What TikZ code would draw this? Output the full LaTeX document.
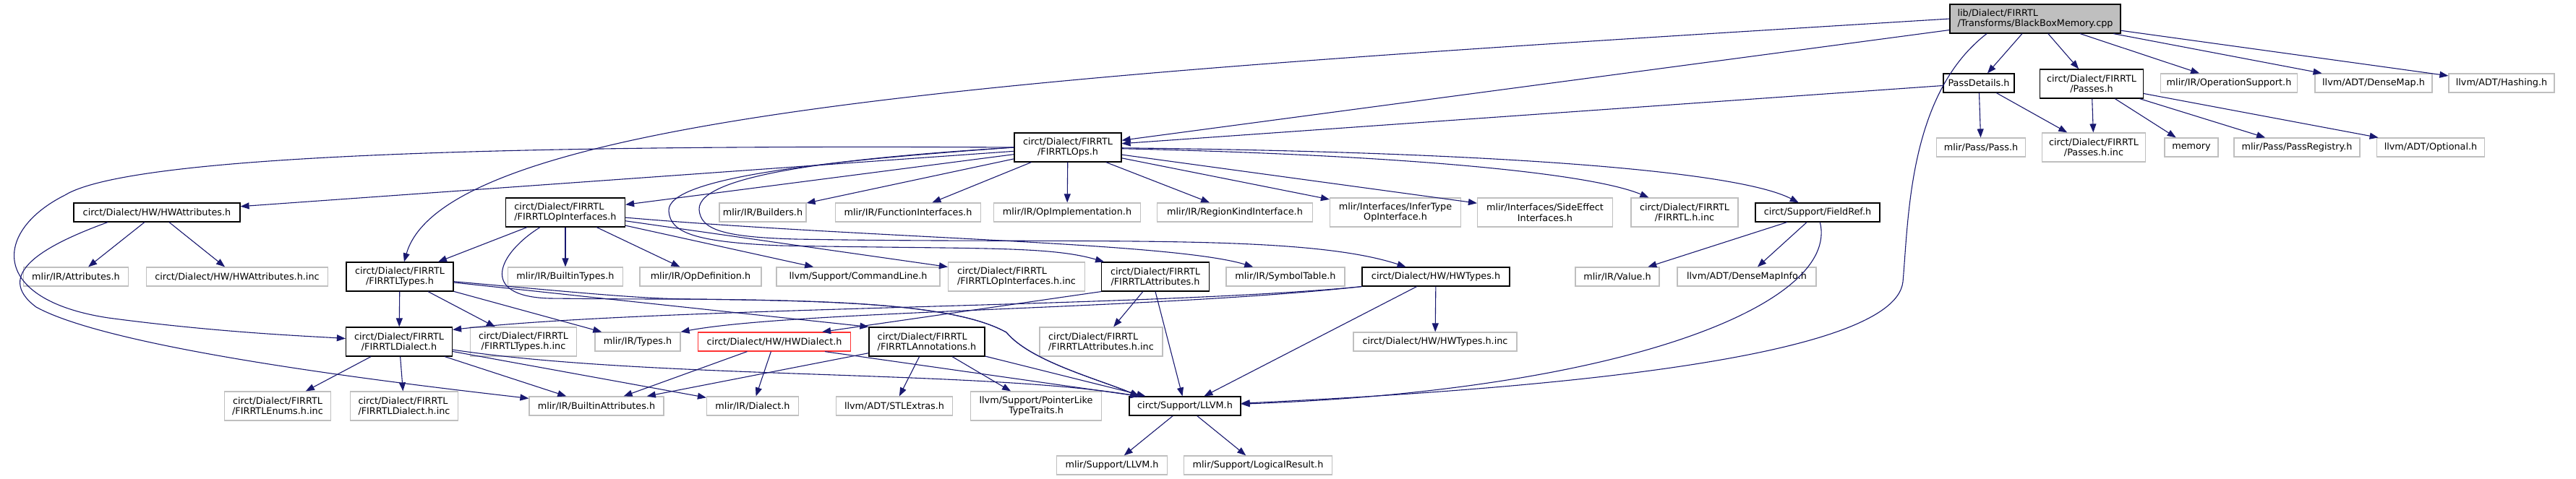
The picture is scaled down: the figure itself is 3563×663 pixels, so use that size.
\documentclass[tikz,border=0pt]{standalone}
\usepackage{fontspec}
\setmainfont{DejaVu Sans}
\usetikzlibrary{arrows.meta}
\definecolor{edgeblue}{HTML}{191970}
\definecolor{boxgray}{HTML}{BFBFBF}

\begin{document}
\begin{tikzpicture}[x=1pt,y=-1pt,
  box/.style={fill=white,line width=1.2pt,inner sep=0pt,minimum height=26pt,font=\fontsize{12.8}{14.5}\selectfont,align=center},
  incl/.style={box,draw=black},ext/.style={box,draw=boxgray},
  rootbox/.style={box,draw=black,fill=boxgray},redbox/.style={box,draw=red!80},
  tall/.style={minimum height=40pt},lalign/.style={align=left},
  dep/.style={draw=edgeblue,line width=1.1pt,-{Triangle[length=12pt,width=9pt]}}]
  \useasboundingbox (0,0) rectangle (3563,663);

  \node[rootbox,tall,lalign,minimum width=236pt] (root) at (2815,26) {lib/Dialect/FIRRTL\\/Transforms/BlackBoxMemory.cpp};

  \node[incl,minimum width=98pt] (passdet) at (2737,115) {PassDetails.h};
  \node[incl,tall,minimum width=143pt] (passes) at (2893,116) {circt/Dialect/FIRRTL\\/Passes.h};
  \node[ext,minimum width=189pt] (opsupp) at (3083,115) {mlir/IR/OperationSupport.h};
  \node[ext,minimum width=162pt] (densemap) at (3283,115) {llvm/ADT/DenseMap.h};
  \node[ext,minimum width=146pt] (hashing) at (3460,115) {llvm/ADT/Hashing.h};

  \node[incl,tall,minimum width=148pt] (ops) at (1477,204) {circt/Dialect/FIRRTL\\/FIRRTLOps.h};
  \node[ext,minimum width=123pt] (pass) at (2740,204) {mlir/Pass/Pass.h};
  \node[ext,tall,minimum width=143pt] (passinc) at (2896,204) {circt/Dialect/FIRRTL\\/Passes.h.inc};
  \node[ext,minimum width=74pt] (memory) at (3031,204) {memory};
  \node[ext,minimum width=174pt] (passreg) at (3177,204) {mlir/Pass/PassRegistry.h};
  \node[ext,minimum width=149pt] (optional) at (3362,204) {llvm/ADT/Optional.h};

  \node[incl,minimum width=230pt] (hwattr) at (217,294) {circt/Dialect/HW/HWAttributes.h};
  \node[incl,tall,lalign,minimum width=165pt] (opif) at (782,294) {circt/Dialect/FIRRTL\\/FIRRTLOpInterfaces.h};
  \node[ext,minimum width=120pt] (builders) at (1055,294) {mlir/IR/Builders.h};
  \node[ext,minimum width=201pt] (funcif) at (1256,294) {mlir/IR/FunctionInterfaces.h};
  \node[ext,minimum width=203pt] (opimpl) at (1476,294) {mlir/IR/OpImplementation.h};
  \node[ext,minimum width=215pt] (regkind) at (1708,294) {mlir/IR/RegionKindInterface.h};
  \node[ext,tall,minimum width=181pt] (infer) at (1930,294) {mlir/Interfaces/InferType\\OpInterface.h};
  \node[ext,tall,minimum width=187pt] (sideeff) at (2137,294) {mlir/Interfaces/SideEffect\\Interfaces.h};
  \node[ext,tall,minimum width=148pt] (firrtlinc) at (2330,294) {circt/Dialect/FIRRTL\\/FIRRTL.h.inc};
  \node[incl,minimum width=172pt] (fieldref) at (2514,294) {circt/Support/FieldRef.h};

  \node[ext,minimum width=145pt] (attrs) at (105,383) {mlir/IR/Attributes.h};
  \node[ext,minimum width=251pt] (hwattrinc) at (328,383) {circt/Dialect/HW/HWAttributes.h.inc};
  \node[incl,tall,minimum width=148pt] (types) at (553,383) {circt/Dialect/FIRRTL\\/FIRRTLTypes.h};
  \node[ext,minimum width=159pt] (builtintypes) at (782,383) {mlir/IR/BuiltinTypes.h};
  \node[ext,minimum width=168pt] (opdef) at (969,383) {mlir/IR/OpDefinition.h};
  \node[ext,minimum width=226pt] (cmdline) at (1187,383) {llvm/Support/CommandLine.h};
  \node[ext,tall,lalign,minimum width=189pt] (opifinc) at (1406,383) {circt/Dialect/FIRRTL\\/FIRRTLOpInterfaces.h.inc};
  \node[incl,tall,minimum width=149pt] (attr) at (1598,383) {circt/Dialect/FIRRTL\\/FIRRTLAttributes.h};
  \node[ext,minimum width=164pt] (symtab) at (1778,383) {mlir/IR/SymbolTable.h};
  \node[incl,minimum width=204pt] (hwtypes) at (1986,383) {circt/Dialect/HW/HWTypes.h};
  \node[ext,minimum width=116pt] (value) at (2237,383) {mlir/IR/Value.h};
  \node[ext,minimum width=192pt] (densemapinfo) at (2416,383) {llvm/ADT/DenseMapInfo.h};

  \node[incl,tall,minimum width=147pt] (dialect) at (552,473) {circt/Dialect/FIRRTL\\/FIRRTLDialect.h};
  \node[ext,tall,minimum width=147pt] (typesinc) at (724,473) {circt/Dialect/FIRRTL\\/FIRRTLTypes.h.inc};
  \node[ext,minimum width=118pt] (irtypes) at (882,473) {mlir/IR/Types.h};
  \node[redbox,minimum width=211pt] (hwdialect) at (1071,473) {circt/Dialect/HW/HWDialect.h};
  \node[incl,tall,lalign,minimum width=160pt] (annos) at (1282,473) {circt/Dialect/FIRRTL\\/FIRRTLAnnotations.h};
  \node[ext,tall,lalign,minimum width=170pt] (attrinc) at (1523,473) {circt/Dialect/FIRRTL\\/FIRRTLAttributes.h.inc};
  \node[ext,minimum width=226pt] (hwtypesinc) at (1985,473) {circt/Dialect/HW/HWTypes.h.inc};

  \node[ext,tall,minimum width=147pt] (enumsinc) at (384,562) {circt/Dialect/FIRRTL\\/FIRRTLEnums.h.inc};
  \node[ext,tall,lalign,minimum width=149pt] (dialectinc) at (559,562) {circt/Dialect/FIRRTL\\/FIRRTLDialect.h.inc};
  \node[ext,minimum width=186pt] (builtinattrs) at (825,562) {mlir/IR/BuiltinAttributes.h};
  \node[ext,minimum width=127pt] (irdialect) at (1041,562) {mlir/IR/Dialect.h};
  \node[ext,minimum width=161pt] (stlextras) at (1237,562) {llvm/ADT/STLExtras.h};
  \node[ext,tall,minimum width=181pt] (ptrlike) at (1433,562) {llvm/Support/PointerLike\\TypeTraits.h};
  \node[incl,minimum width=154pt] (llvm) at (1639,562) {circt/Support/LLVM.h};

  \node[ext,minimum width=153pt] (mlirllvm) at (1538,644) {mlir/Support/LLVM.h};
  \node[ext,minimum width=205pt] (logres) at (1740,644) {mlir/Support/LogicalResult.h};

  \draw[dep] (root) -- (passdet);
  \draw[dep] (root) -- (passes);
  \draw[dep] (root) -- (opsupp);
  \draw[dep] (root) -- (densemap);
  \draw[dep] (root) -- (hashing);
  \draw[dep] (root) -- (ops);
  \draw[dep] (root.west) .. controls (1500,100) and (620,150) .. (types);
  \draw[dep] ([xshift=-67pt]root.south) .. controls (2640,130) and (2640,300) .. (2632,390)
    .. controls (2620,500) and (2100,540) .. (llvm);

  \draw[dep] (passdet) -- (ops);
  \draw[dep] (passdet) -- (pass);
  \draw[dep] (passdet) -- (passinc);
  \draw[dep] (passes) -- (passinc);
  \draw[dep] (passes) -- (memory);
  \draw[dep] (passes) -- (passreg);
  \draw[dep] (passes) -- (optional);

  \draw[dep] (ops) -- (hwattr);
  \draw[dep] (ops) -- (opif);
  \draw[dep] (ops.west) .. controls (700,200) and (180,215) .. (90,270)
    .. controls (-10,320) and (-15,415) .. (150,440) .. controls (300,460) and (420,465) .. (dialect);
  \draw[dep] (ops) -- (builders);
  \draw[dep] (ops) -- (funcif);
  \draw[dep] (ops) -- (opimpl);
  \draw[dep] (ops) -- (regkind);
  \draw[dep] (ops) -- (infer);
  \draw[dep] (ops) -- (sideeff);
  \draw[dep] (ops) .. controls (1950,215) and (2200,240) .. (firrtlinc);
  \draw[dep] (ops) .. controls (2050,210) and (2400,235) .. (fieldref);
  \draw[dep] (ops.west) .. controls (1150,222) and (922,245) .. (925,292)
    .. controls (927,322) and (960,335) .. (1080,340) .. controls (1350,345) and (1450,340) .. (attr);
  \draw[dep] (ops.west) .. controls (1180,218) and (965,240) .. (967,290)
    .. controls (969,318) and (1000,328) .. (1100,331) .. controls (1500,338) and (1800,322) .. (hwtypes);

  \draw[dep] (hwattr) -- (attrs);
  \draw[dep] (hwattr) -- (hwattrinc);
  \draw[dep] ([xshift=-68pt]hwattr.south) .. controls (60,340) and (-10,380) .. (50,425)
    .. controls (150,480) and (500,525) .. (builtinattrs);

  \draw[dep] (opif) -- (types);
  \draw[dep] (opif) -- (builtintypes);
  \draw[dep] (opif) -- (opdef);
  \draw[dep] (opif) -- (cmdline);
  \draw[dep] (opif) -- (opifinc);
  \draw[dep] (opif) .. controls (1200,330) and (1620,335) .. (symtab);
  \draw[dep] ([xshift=-35pt]opif.south) .. controls (690,350) and (660,410) .. (760,413)
    .. controls (850,414) and (900,414) .. (950,414) .. controls (1150,416) and (1320,420) .. (1392,460)
    .. controls (1425,500) and (1520,525) .. ([xshift=14pt]llvm.north west);

  \draw[dep] (fieldref) -- (value);
  \draw[dep] (fieldref) -- (densemapinfo);
  \draw[dep] (fieldref) .. controls (2545,420) and (2250,540) .. (llvm);

  \draw[dep] (types) -- (dialect);
  \draw[dep] (types) -- (typesinc);
  \draw[dep] (types) -- (irtypes);
  \draw[dep] ([yshift=-8pt]types.east) -- (annos.north west);
  \draw[dep] (types) .. controls (800,405) and (880,413) .. (950,414)
    .. controls (1150,416) and (1320,420) .. (1392,460)
    .. controls (1425,500) and (1520,525) .. ([xshift=14pt]llvm.north west);

  \draw[dep] (attr) -- (attrinc);
  \draw[dep] (attr.south) -- (llvm);
  \draw[dep] (attr.south west) -- ([xshift=-40pt]hwdialect.north east);

  \draw[dep] (hwtypes) -- (hwtypesinc);
  \draw[dep] (hwtypes) -- (llvm);
  \draw[dep] (hwtypes.south west) .. controls (1600,425) and (900,425) .. ([yshift=-4pt]dialect.north east);
  \draw[dep] (hwtypes.south west) .. controls (1600,428) and (1100,430) .. (irtypes.north east);

  \draw[dep] (dialect) -- (enumsinc);
  \draw[dep] (dialect) -- (dialectinc);
  \draw[dep] (dialect) -- (builtinattrs);
  \draw[dep] (dialect) -- (irdialect);
  \draw[dep] (dialect) .. controls (900,525) and (1350,512) .. ([xshift=14pt]llvm.north west);

  \draw[dep] (hwdialect) -- (builtinattrs);
  \draw[dep] (hwdialect) -- (irdialect);
  \draw[dep] ([xshift=70pt]hwdialect.south) -- ([xshift=14pt]llvm.north west);

  \draw[dep] (annos) -- (builtinattrs);
  \draw[dep] (annos) -- (stlextras);
  \draw[dep] (annos) -- (ptrlike);
  \draw[dep] (annos) -- (llvm);

  \draw[dep] (llvm) -- (mlirllvm);
  \draw[dep] (llvm) -- (logres);
\end{tikzpicture}
\end{document}
